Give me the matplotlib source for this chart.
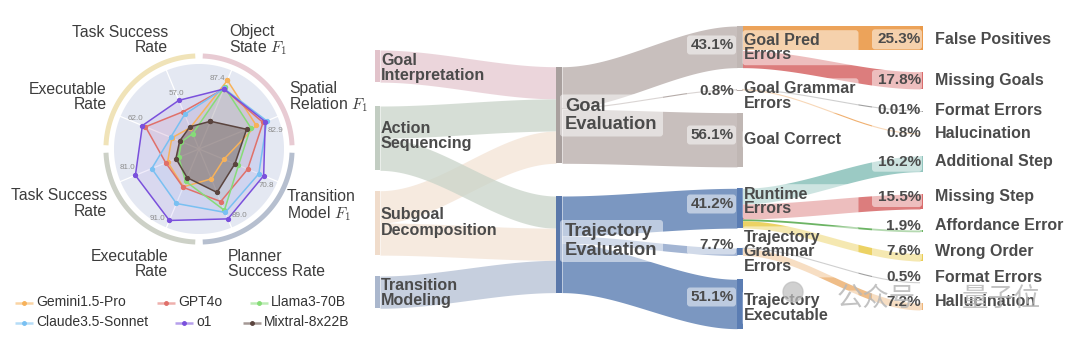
import numpy as np
import matplotlib
matplotlib.use('Agg')
import matplotlib.pyplot as plt
from matplotlib.patches import FancyBboxPatch, Circle, Rectangle

plt.rcParams['font.family'] = ['Liberation Sans', 'DejaVu Sans']
plt.rcParams['mathtext.fontset'] = 'cm'

# ---------------- radar data ----------------
radar_axes = ['Object\nState $F_1$', 'Spatial\nRelation $F_1$', 'Transition\nModel $F_1$',
              'Planner\nSuccess Rate', 'Executable\nRate', 'Task Success\nRate',
              'Executable\nRate', 'Task Success\nRate']
axis_full = [100, 96, 86, 100, 100, 100, 86, 92]      # value reached at the rim of each axis
models = ['Gemini1.5-Pro', 'GPT4o', 'Llama3-70B', 'Claude3.5-Sonnet', 'o1', 'Mixtral-8x22B']
gemini = [87.4, 69.9, 27.2, 38.0, 48.2, 40.0, 29.7, 24.9]
gpt4o = [76.4, 78.3, 53.3, 66.9, 48.8, 42.4, 58.6, 43.9]
llama = [78.6, 63.2, 43.2, 78.1, 41.2, 25.9, 19.2, 17.9]
claude = [77.1, 82.9, 65.5, 80.8, 69.4, 60.2, 31.0, 40.6]
o1 = [76.4, 81.0, 70.8, 89.0, 91.0, 81.0, 62.0, 57.0]
mixtral = [35.3, 58.2, 39.3, 55.3, 36.5, 29.4, 21.2, 26.0]

# ---------------- sankey data ----------------
stage1_labels = ['Goal\nInterpretation', 'Action\nSequencing', 'Subgoal\nDecomposition', 'Transition\nModeling']
stage2_labels = ['Goal\nEvaluation', 'Trajectory\nEvaluation']
links12 = [(0, 0, 33.3), (1, 0, 33.3), (2, 0, 33.4), (1, 1, 33.3), (2, 1, 33.3), (3, 1, 33.4)]
stage3_labels = ['Goal Pred\nErrors', 'Goal Grammar\nErrors', 'Goal Correct',
                 'Runtime\nErrors', 'Trajectory\nGrammar\nErrors', 'Trajectory\nExecutable']
stage3_parent = [0, 0, 0, 1, 1, 1]
stage3_values = [43.1, 0.8, 56.1, 41.2, 7.7, 51.1]
stage4_labels = ['False Positives', 'Missing Goals', 'Format Errors', 'Halucination',
                 'Additional Step', 'Missing Step', 'Affordance Error', 'Wrong Order',
                 'Format Errors', 'Hallucination']
stage4_parent = [0, 0, 1, 1, 3, 3, 3, 3, 4, 4]
stage4_values = [25.3, 17.8, 0.01, 0.8, 16.2, 15.5, 1.9, 7.6, 0.5, 7.2]

# ---------------- figure ----------------
W, H = 1080, 344
fig = plt.figure(figsize=(W / 100, H / 100), dpi=100)
ax = fig.add_axes([0, 0, 1, 1])
ax.set_xlim(0, W)
ax.set_ylim(H, 0)
ax.axis('off')

TXT = '#4b4b4b'

# ---------- sankey styling / layout ----------
PX = 0.966
X1, X2, X3, X4 = 375, 556, 737, 920
BW1, BW2, BW3, BW4 = 5, 6, 5.5, 3
s1_top = [50, 106, 190.7, 276]
s2_top = [66.7, 196]
s3_top = [26, 89.5, 112.7, 188.3, 248, 279.3]
s4_top = [26, 71.7, 110.8, 133.5, 156, 194, 230, 253.5, 282.5, 303]
s1_flow = ['#e5c8d0', '#c9d4c9', '#f3e3d5', '#b3bfd3']
s1_node = ['#e2c3cb', '#c2cdc2', '#f0dccb', '#aab7cd']
s2_node = ['#a9a09e', '#5a78aa']
s3_flow = ['#c8bfbd', '#b5aba8', '#c8bfbd', '#7b97c1', '#a3b5d3', '#7b97c1']
s3_node = ['#c0b7b4', '#b5aba8', '#c0b7b4', '#5b7db3', '#5b7db3', '#5b7db3']
s4_flow = ['#eca35a', '#dc7d7d', '#a0a0a0', '#f0b070', '#9bcac4', '#dc7d7d',
           '#6cb464', '#ecd264', '#a0a0a0', '#efbd88']
s4_node = ['#ea9a4a', '#d96c6c', '#a0a0a0', '#f0b070', '#92c5be', '#d96c6c',
           '#6cb464', '#eacd55', '#a0a0a0', '#eeb57a']


def band(x0, x1, y0, y1, h, color, alpha=1.0, z=2):
    t = np.linspace(0, 1, 150)
    s = t * t * (3 - 2 * t)
    xs = x0 + (x1 - x0) * t
    ys = y0 + (y1 - y0) * s
    if h < 1.2:
        ax.plot(xs, ys + h / 2, color=color, alpha=alpha, lw=0.8, zorder=z, solid_capstyle='butt')
    else:
        ax.fill_between(xs, ys, ys + h, color=color, alpha=alpha, lw=0, zorder=z)


def box(x, yc, w, h, alpha=0.5):
    ax.add_patch(FancyBboxPatch((x, yc - h / 2), w, h, boxstyle='round,pad=0,rounding_size=3',
                                fc='white', ec='none', alpha=alpha, zorder=4))


# stage 1 -> stage 2
s1_off = list(s1_top)
s2_off = list(s2_top)
s1_tot = [0.0] * len(stage1_labels)
for src, tgt, v in links12:
    h = v * PX
    band(X1 + BW1, X2, s1_off[src], s2_off[tgt], h, s1_flow[src], 1.0 if False else 0.75)
    s1_off[src] += h
    s2_off[tgt] += h
    s1_tot[src] += v
for i, tot in enumerate(s1_tot):
    ax.add_patch(Rectangle((X1, s1_top[i]), BW1, tot * PX, fc=s1_node[i], ec='none', zorder=3))

# stage 2 -> stage 3
s2_off = list(s2_top)
s2_tot = [0.0, 0.0]
for i, (p, v) in enumerate(zip(stage3_parent, stage3_values)):
    h = v * PX
    band(X2 + BW2, X3, s2_off[p], s3_top[i], h, s3_flow[i], 1.0)
    s2_off[p] += h
    s2_tot[p] += v
    ax.add_patch(Rectangle((X3, s3_top[i]), BW3, max(h, 1.0), fc=s3_node[i], ec='none', zorder=3))
for p, tot in enumerate(s2_tot):
    ax.add_patch(Rectangle((X2, s2_top[p]), BW2, tot * PX, fc=s2_node[p], ec='none', zorder=3))

# stage 3 -> stage 4
s3_off = list(s3_top)
for j, (p, v) in enumerate(zip(stage4_parent, stage4_values)):
    h = v * PX
    band(X3 + BW3, X4, s3_off[p], s4_top[j], h, s4_flow[j], 1.0)
    s3_off[p] += h
    ax.add_patch(Rectangle((X4, s4_top[j]), BW4, max(h, 0.8), fc=s4_node[j], ec='none', zorder=3))

# ---------- sankey labels ----------
s1_label_y = [68, 136, 222.5, 293.3]
for lab, y in zip(stage1_labels, s1_label_y):
    ax.text(381, y, lab, fontsize=11.6, fontweight='bold', color=TXT, ha='left', va='center',
            linespacing=1.0, zorder=5)

s2_label_y = [115.5, 241]
for lab, y in zip(stage2_labels, s2_label_y):
    box(560, y, 103, 42)
    ax.text(565, y, lab, fontsize=13.2, fontweight='bold', color=TXT, ha='left', va='center',
            linespacing=1.1, zorder=5)

s3_pct_y = [45, 91, 135, 204, 245, 297]
for v, y in zip(stage3_values, s3_pct_y):
    box(687, y, 49, 19)
    ax.text(734, y, f'{v:g}%', fontsize=11, fontweight='bold', color=TXT, ha='right', va='center', zorder=5)

s3_label_y = [47.7, 95.8, 139.3, 201.7, 251.9, 308]
for lab, y in zip(stage3_labels, s3_label_y):
    nl = lab.count('\n') + 1
    box(742.5, y, 116, 16 * nl + 3)
    ax.text(743.5, y, lab, fontsize=11.5, fontweight='bold', color=TXT, ha='left', va='center',
            linespacing=0.95, zorder=5)

s4_label_y = [39.3, 80, 110.5, 133, 161.7, 197, 226, 251.2, 277, 301.5]
for v, lab, y in zip(stage4_values, stage4_labels, s4_label_y):
    box(872, y, 50, 20)
    ax.text(921, y, f'{v:g}%', fontsize=11, fontweight='bold', color=TXT, ha='right', va='center', zorder=5)
    ax.text(935, y, lab, fontsize=11.5, fontweight='bold', color=TXT, ha='left', va='center', zorder=5)

# ---------- radar ----------
n = len(radar_axes)
angles = np.deg2rad(22.5 + 45 * np.arange(n))
R_px, cx, cy, lim = 85, 199, 149, 1.12
rp = R_px * lim
axr = fig.add_axes([(cx - rp) / W, (H - cy - rp) / H, 2 * rp / W, 2 * rp / H], projection='polar')
axr.set_theta_zero_location('N')
axr.set_theta_direction(-1)
axr.set_ylim(0, lim)
axr.axis('off')

tt = np.linspace(0, 2 * np.pi, 400)
axr.fill(tt, np.ones_like(tt), color='#e4e8f2', lw=0, zorder=0)
for a in angles:
    axr.plot([a, a], [0, 1], color='white', lw=0.9, zorder=1)
ring_colors = ['#e8cbd3', '#b6bfcf', '#cdd1c7', '#f0e3b8']
for q, c in enumerate(ring_colors):
    th = np.deg2rad(np.linspace(q * 90 + 2.3, q * 90 + 87.7, 80))
    axr.plot(th, np.full_like(th, 1.095), color=c, lw=3.6, solid_capstyle='butt', clip_on=False)

series = [gemini, gpt4o, llama, claude, o1, mixtral]
colors = ['#f7b25a', '#e0706a', '#86dc78', '#79c0f2', '#7a50dc', '#5a443e']
fill_alpha = [0.1, 0.1, 0.1, 0.1, 0.1, 0.38]
for vals, c, fa in zip(series, colors, fill_alpha):
    r = np.array(vals) / np.array(axis_full)
    th = np.append(angles, angles[0])
    rr = np.append(r, r[0])
    axr.fill(th, rr, color=c, alpha=fa, lw=0, zorder=2)
    axr.plot(th, rr, color=c, lw=1.1, marker='o', ms=2.8, zorder=3)

offs = [(-10, -2), (9, 10), (3, 10), (11, -3), (-12, -2), (-8, -8), (-7, -7), (-2, -7)]
for k in range(n):
    vmax = max(s[k] for s in series)
    axr.annotate(f'{vmax:.1f}', xy=(angles[k], vmax / axis_full[k]),
                 xytext=(offs[k][0] * 0.72, -offs[k][1] * 0.72), textcoords='offset points',
                 ha='center', va='center', fontsize=5.8, color='#8c8c8c', zorder=4)

RTXT = '#3c3c3c'
radar_label_pos = [(229, 40.5, 'left'), (289, 97.5, 'left'), (287, 206, 'left'), (228, 264, 'left'),
                   (168, 264, 'right'), (107, 203.5, 'right'), (107, 97, 'right'), (168, 40, 'right')]
for lab, (x, y, ha) in zip(radar_axes, radar_label_pos):
    ax.text(x, y, lab, fontsize=11.3, color=RTXT, ha=ha, va='center', linespacing=1.0)

# legend (row-major like the original)
leg_pos = [(15, 302.5), (157, 302.5), (250, 302.5), (15, 322.5), (175, 322.5), (243, 322.5)]
for (x, y), name, c in zip(leg_pos, models, colors):
    ax.plot([x, x + 18], [y, y], color=c, lw=1.8, alpha=0.55, solid_capstyle='butt')
    ax.plot([x + 9], [y], 'o', color=c, ms=2.5)
    ax.text(x + 21, y, name, fontsize=10, color='#333333', ha='left', va='center')

# watermark
ax.add_patch(Circle((793, 292), 10, color='#bdbdbd', alpha=0.7, zorder=6))
for txt, x in [('公众号', 876), ('量子位', 1001)]:
    ax.text(x, 298, txt, fontsize=19, color='#b8b8b8', alpha=0.85, family=['Noto Sans CJK SC'],
            ha='center', va='center', zorder=6)

fig.savefig('out.png', dpi=100)
